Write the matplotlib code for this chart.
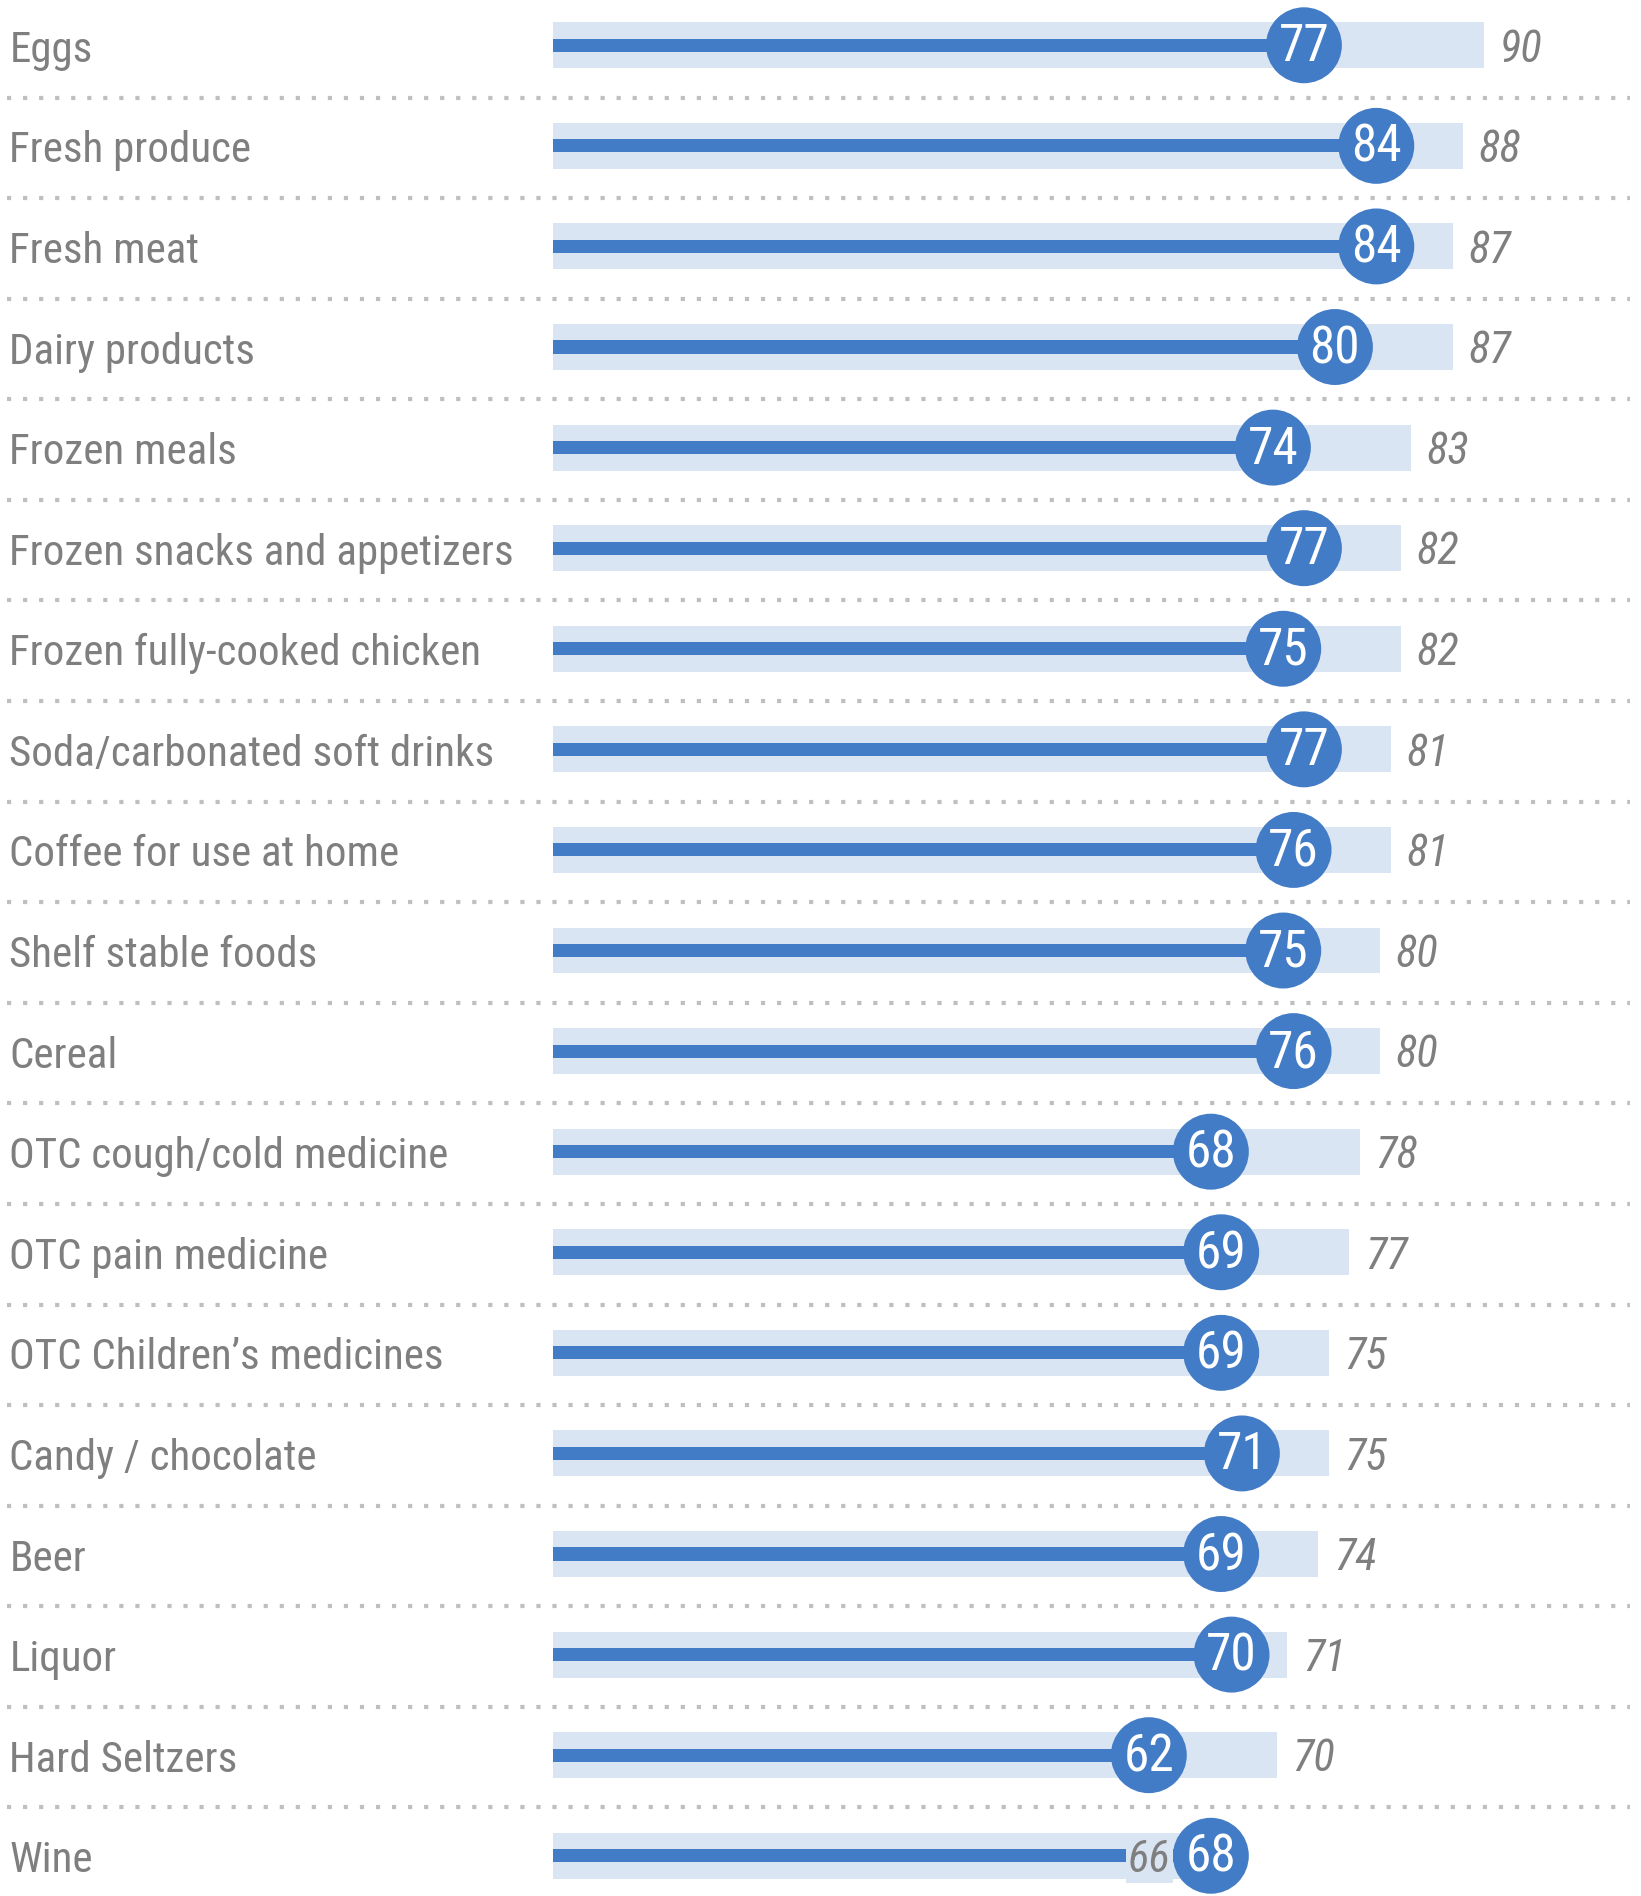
import matplotlib
matplotlib.use('Agg')
import matplotlib.pyplot as plt
from matplotlib import font_manager

categories = ['Eggs', 'Fresh produce', 'Fresh meat', 'Dairy products', 'Frozen meals',
              'Frozen snacks and appetizers', 'Frozen fully-cooked chicken',
              'Soda/carbonated soft drinks', 'Coffee for use at home', 'Shelf stable foods',
              'Cereal', 'OTC cough/cold medicine', 'OTC pain medicine',
              'OTC Children\u2019s medicines', 'Candy / chocolate', 'Beer', 'Liquor',
              'Hard Seltzers', 'Wine']
current = [77, 84, 84, 80, 74, 77, 75, 77, 76, 75, 76, 68, 69, 69, 71, 69, 70, 62, 68]
benchmark = [90, 88, 87, 87, 83, 82, 82, 81, 81, 80, 80, 78, 77, 75, 75, 74, 71, 70, 66]

names = {f.name for f in font_manager.fontManager.ttflist}
fam = 'DejaVu Sans'
for cand in ['Liberation Sans Narrow', 'Roboto Condensed', 'Open Sans Condensed', 'Roboto']:
    if cand in names:
        fam = cand
        break
plt.rcParams['font.family'] = [fam, 'DejaVu Sans']

dark = '#437cc6'
light = '#dae5f4'
grey = '#7f7f7f'

fig = plt.figure(figsize=(16.41, 18.96), dpi=100)
ax = fig.add_axes([0, 0, 1, 1])
ax.set_xlim(-53.5, 105.2)
ax.set_ylim(18.4, -0.45)
ax.axis('off')

off = 4.4  # circle sits just inside the end of its line
for i, (cat, v, b) in enumerate(zip(categories, current, benchmark)):
    cx = v - off
    ax.barh(i, b, height=0.457, color=light, zorder=1)
    ax.barh(i, cx, height=0.13, color=dark, zorder=2)
    ax.scatter(cx, i, s=2990, color=dark, edgecolors='none', zorder=3)
    ax.text(cx, i + 0.02, str(v), color='white', fontsize=37,
            ha='center', va='center', zorder=4)
    ax.text(-52.6, i + 0.05, cat, color=grey, fontsize=31, ha='left', va='center')
    if b < v:
        # benchmark hidden under the circle: put its label just left of it
        ax.text(cx - 3.9, i + 0.04, str(b), color=grey, fontsize=32, style='italic',
                ha='right', va='center', zorder=3,
                bbox=dict(boxstyle='square,pad=0.05', fc=light, ec='none'))
    else:
        ax.text(b + 1.5, i + 0.04, str(b), color=grey, fontsize=32, style='italic',
                ha='left', va='center')
    if i < len(categories) - 1:
        ax.plot([-52.8, 104.1], [i + 0.52, i + 0.52], color='#bfbfbf', lw=3,
                linestyle=(0, (1, 2.85)), dash_capstyle='butt', zorder=0)

fig.savefig('out.png', dpi=100)
